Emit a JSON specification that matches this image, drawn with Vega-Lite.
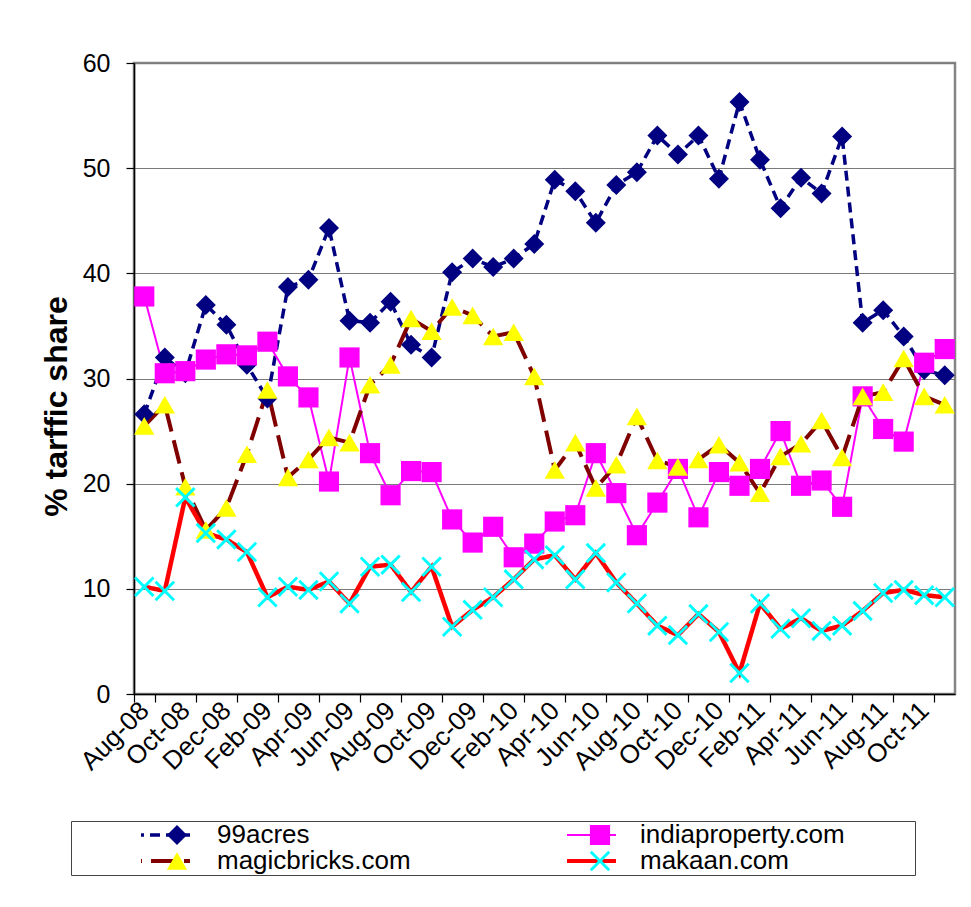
{
  "$schema": "https://vega.github.io/schema/vega-lite/v6.json",
  "width": 821,
  "height": 631,
  "autosize": {"type": "none"},
  "padding": {"left": 134, "top": 63, "right": 16, "bottom": 213},
  "background": "white",
  "config": {
    "font": "Liberation Sans",
    "view": {"stroke": "#858585", "strokeWidth": 2.5}
  },
  "data": {"values": [
    {"m":"Aug-08","s":"99acres","v":26.6},{"m":"Sep-08","s":"99acres","v":32.0},{"m":"Oct-08","s":"99acres","v":30.5},{"m":"Nov-08","s":"99acres","v":37.0},{"m":"Dec-08","s":"99acres","v":35.1},{"m":"Jan-09","s":"99acres","v":31.3},{"m":"Feb-09","s":"99acres","v":28.1},{"m":"Mar-09","s":"99acres","v":38.7},{"m":"Apr-09","s":"99acres","v":39.4},{"m":"May-09","s":"99acres","v":44.3},
    {"m":"Jun-09","s":"99acres","v":35.5},{"m":"Jul-09","s":"99acres","v":35.3},{"m":"Aug-09","s":"99acres","v":37.3},{"m":"Sep-09","s":"99acres","v":33.2},{"m":"Oct-09","s":"99acres","v":32.0},{"m":"Nov-09","s":"99acres","v":40.1},{"m":"Dec-09","s":"99acres","v":41.4},{"m":"Jan-10","s":"99acres","v":40.6},{"m":"Feb-10","s":"99acres","v":41.4},{"m":"Mar-10","s":"99acres","v":42.8},
    {"m":"Apr-10","s":"99acres","v":48.9},{"m":"May-10","s":"99acres","v":47.8},{"m":"Jun-10","s":"99acres","v":44.8},{"m":"Jul-10","s":"99acres","v":48.4},{"m":"Aug-10","s":"99acres","v":49.6},{"m":"Sep-10","s":"99acres","v":53.1},{"m":"Oct-10","s":"99acres","v":51.3},{"m":"Nov-10","s":"99acres","v":53.1},{"m":"Dec-10","s":"99acres","v":49.0},{"m":"Jan-11","s":"99acres","v":56.3},
    {"m":"Feb-11","s":"99acres","v":50.8},{"m":"Mar-11","s":"99acres","v":46.2},{"m":"Apr-11","s":"99acres","v":49.1},{"m":"May-11","s":"99acres","v":47.6},{"m":"Jun-11","s":"99acres","v":53.0},{"m":"Jul-11","s":"99acres","v":35.3},{"m":"Aug-11","s":"99acres","v":36.5},{"m":"Sep-11","s":"99acres","v":34.0},{"m":"Oct-11","s":"99acres","v":30.8},{"m":"Nov-11","s":"99acres","v":30.3},

    {"m":"Aug-08","s":"indiaproperty.com","v":37.8},{"m":"Sep-08","s":"indiaproperty.com","v":30.5},{"m":"Oct-08","s":"indiaproperty.com","v":30.7},{"m":"Nov-08","s":"indiaproperty.com","v":31.8},{"m":"Dec-08","s":"indiaproperty.com","v":32.3},{"m":"Jan-09","s":"indiaproperty.com","v":32.2},{"m":"Feb-09","s":"indiaproperty.com","v":33.5},{"m":"Mar-09","s":"indiaproperty.com","v":30.2},{"m":"Apr-09","s":"indiaproperty.com","v":28.2},{"m":"May-09","s":"indiaproperty.com","v":20.2},
    {"m":"Jun-09","s":"indiaproperty.com","v":32.0},{"m":"Jul-09","s":"indiaproperty.com","v":22.9},{"m":"Aug-09","s":"indiaproperty.com","v":18.9},{"m":"Sep-09","s":"indiaproperty.com","v":21.2},{"m":"Oct-09","s":"indiaproperty.com","v":21.1},{"m":"Nov-09","s":"indiaproperty.com","v":16.6},{"m":"Dec-09","s":"indiaproperty.com","v":14.4},{"m":"Jan-10","s":"indiaproperty.com","v":15.9},{"m":"Feb-10","s":"indiaproperty.com","v":13.0},{"m":"Mar-10","s":"indiaproperty.com","v":14.3},
    {"m":"Apr-10","s":"indiaproperty.com","v":16.4},{"m":"May-10","s":"indiaproperty.com","v":17.0},{"m":"Jun-10","s":"indiaproperty.com","v":22.9},{"m":"Jul-10","s":"indiaproperty.com","v":19.1},{"m":"Aug-10","s":"indiaproperty.com","v":15.1},{"m":"Sep-10","s":"indiaproperty.com","v":18.2},{"m":"Oct-10","s":"indiaproperty.com","v":21.4},{"m":"Nov-10","s":"indiaproperty.com","v":16.8},{"m":"Dec-10","s":"indiaproperty.com","v":21.1},{"m":"Jan-11","s":"indiaproperty.com","v":19.8},
    {"m":"Feb-11","s":"indiaproperty.com","v":21.4},{"m":"Mar-11","s":"indiaproperty.com","v":25.0},{"m":"Apr-11","s":"indiaproperty.com","v":19.8},{"m":"May-11","s":"indiaproperty.com","v":20.3},{"m":"Jun-11","s":"indiaproperty.com","v":17.8},{"m":"Jul-11","s":"indiaproperty.com","v":28.3},{"m":"Aug-11","s":"indiaproperty.com","v":25.2},{"m":"Sep-11","s":"indiaproperty.com","v":24.0},{"m":"Oct-11","s":"indiaproperty.com","v":31.5},{"m":"Nov-11","s":"indiaproperty.com","v":32.8},

    {"m":"Aug-08","s":"magicbricks.com","v":25.5},{"m":"Sep-08","s":"magicbricks.com","v":27.5},{"m":"Oct-08","s":"magicbricks.com","v":19.7},{"m":"Nov-08","s":"magicbricks.com","v":15.6},{"m":"Dec-08","s":"magicbricks.com","v":17.7},{"m":"Jan-09","s":"magicbricks.com","v":22.8},{"m":"Feb-09","s":"magicbricks.com","v":28.9},{"m":"Mar-09","s":"magicbricks.com","v":20.6},{"m":"Apr-09","s":"magicbricks.com","v":22.3},{"m":"May-09","s":"magicbricks.com","v":24.4},
    {"m":"Jun-09","s":"magicbricks.com","v":23.9},{"m":"Jul-09","s":"magicbricks.com","v":29.4},{"m":"Aug-09","s":"magicbricks.com","v":31.3},{"m":"Sep-09","s":"magicbricks.com","v":35.7},{"m":"Oct-09","s":"magicbricks.com","v":34.5},{"m":"Nov-09","s":"magicbricks.com","v":36.8},{"m":"Dec-09","s":"magicbricks.com","v":36.0},{"m":"Jan-10","s":"magicbricks.com","v":34.0},{"m":"Feb-10","s":"magicbricks.com","v":34.4},{"m":"Mar-10","s":"magicbricks.com","v":30.2},
    {"m":"Apr-10","s":"magicbricks.com","v":21.3},{"m":"May-10","s":"magicbricks.com","v":23.9},{"m":"Jun-10","s":"magicbricks.com","v":19.6},{"m":"Jul-10","s":"magicbricks.com","v":21.8},{"m":"Aug-10","s":"magicbricks.com","v":26.4},{"m":"Sep-10","s":"magicbricks.com","v":22.2},{"m":"Oct-10","s":"magicbricks.com","v":21.6},{"m":"Nov-10","s":"magicbricks.com","v":22.3},{"m":"Dec-10","s":"magicbricks.com","v":23.7},{"m":"Jan-11","s":"magicbricks.com","v":22.0},
    {"m":"Feb-11","s":"magicbricks.com","v":19.1},{"m":"Mar-11","s":"magicbricks.com","v":22.6},{"m":"Apr-11","s":"magicbricks.com","v":23.8},{"m":"May-11","s":"magicbricks.com","v":26.0},{"m":"Jun-11","s":"magicbricks.com","v":22.5},{"m":"Jul-11","s":"magicbricks.com","v":28.3},{"m":"Aug-11","s":"magicbricks.com","v":28.7},{"m":"Sep-11","s":"magicbricks.com","v":31.9},{"m":"Oct-11","s":"magicbricks.com","v":28.3},{"m":"Nov-11","s":"magicbricks.com","v":27.5},

    {"m":"Aug-08","s":"makaan.com","v":10.2},{"m":"Sep-08","s":"makaan.com","v":9.8},{"m":"Oct-08","s":"makaan.com","v":18.7},{"m":"Nov-08","s":"makaan.com","v":15.3},{"m":"Dec-08","s":"makaan.com","v":14.7},{"m":"Jan-09","s":"makaan.com","v":13.5},{"m":"Feb-09","s":"makaan.com","v":9.2},{"m":"Mar-09","s":"makaan.com","v":10.2},{"m":"Apr-09","s":"makaan.com","v":9.9},{"m":"May-09","s":"makaan.com","v":10.7},
    {"m":"Jun-09","s":"makaan.com","v":8.6},{"m":"Jul-09","s":"makaan.com","v":12.1},{"m":"Aug-09","s":"makaan.com","v":12.3},{"m":"Sep-09","s":"makaan.com","v":9.7},{"m":"Oct-09","s":"makaan.com","v":12.1},{"m":"Nov-09","s":"makaan.com","v":6.4},{"m":"Dec-09","s":"makaan.com","v":8.0},{"m":"Jan-10","s":"makaan.com","v":9.2},{"m":"Feb-10","s":"makaan.com","v":10.9},{"m":"Mar-10","s":"makaan.com","v":12.8},
    {"m":"Apr-10","s":"makaan.com","v":13.2},{"m":"May-10","s":"makaan.com","v":10.9},{"m":"Jun-10","s":"makaan.com","v":13.4},{"m":"Jul-10","s":"makaan.com","v":10.6},{"m":"Aug-10","s":"makaan.com","v":8.6},{"m":"Sep-10","s":"makaan.com","v":6.5},{"m":"Oct-10","s":"makaan.com","v":5.6},{"m":"Nov-10","s":"makaan.com","v":7.6},{"m":"Dec-10","s":"makaan.com","v":5.9},{"m":"Jan-11","s":"makaan.com","v":2.0},
    {"m":"Feb-11","s":"makaan.com","v":8.6},{"m":"Mar-11","s":"makaan.com","v":6.2},{"m":"Apr-11","s":"makaan.com","v":7.2},{"m":"May-11","s":"makaan.com","v":6.0},{"m":"Jun-11","s":"makaan.com","v":6.5},{"m":"Jul-11","s":"makaan.com","v":7.9},{"m":"Aug-11","s":"makaan.com","v":9.6},{"m":"Sep-11","s":"makaan.com","v":9.9},{"m":"Oct-11","s":"makaan.com","v":9.4},{"m":"Nov-11","s":"makaan.com","v":9.2}
  ]},
  "encoding": {
    "x": {
      "field": "m", "type": "ordinal", "sort": null,
      "scale": {"type": "band", "paddingInner": 0, "paddingOuter": 0,
        "domain": ["Aug-08","Sep-08","Oct-08","Nov-08","Dec-08","Jan-09","Feb-09","Mar-09","Apr-09","May-09","Jun-09","Jul-09","Aug-09","Sep-09","Oct-09","Nov-09","Dec-09","Jan-10","Feb-10","Mar-10","Apr-10","May-10","Jun-10","Jul-10","Aug-10","Sep-10","Oct-10","Nov-10","Dec-10","Jan-11","Feb-11","Mar-11","Apr-11","May-11","Jun-11","Jul-11","Aug-11","Sep-11","Oct-11","Nov-11"]},
      "axis": {
        "values": ["Aug-08","Oct-08","Dec-08","Feb-09","Apr-09","Jun-09","Aug-09","Oct-09","Dec-09","Feb-10","Apr-10","Jun-10","Aug-10","Oct-10","Dec-10","Feb-11","Apr-11","Jun-11","Aug-11","Oct-11"],
        "title": null, "tickBand": "extent", "grid": false,
        "labelAngle": -45, "labelAlign": "right", "labelBaseline": "middle",
        "labelFontSize": 26, "labelColor": "black", "labelPadding": 4,
        "tickColor": "black", "tickSize": 8, "tickWidth": 1.2,
        "domainColor": "black", "domainWidth": 1.5
      }
    },
    "y": {
      "field": "v", "type": "quantitative",
      "scale": {"domain": [0, 60], "nice": false},
      "axis": {
        "values": [0, 10, 20, 30, 40, 50, 60],
        "title": "% tarffic share", "titleFontSize": 32, "titleFontWeight": "bold", "titleColor": "black",
        "titleAngle": 270, "titleX": -78, "titleY": 343, "titleAlign": "center", "titleBaseline": "middle",
        "grid": true, "gridColor": "#7a7a7a", "gridWidth": 1.2,
        "domainColor": "black", "domainWidth": 1.5,
        "tickColor": "black", "tickSize": 8, "tickWidth": 1.2,
        "labelFontSize": 25, "labelColor": "black", "labelPadding": 16
      }
    }
  },
  "layer": [
    {
      "mark": {"type": "line"},
      "encoding": {
        "color": {
          "field": "s", "type": "nominal",
          "scale": {"domain": ["99acres","indiaproperty.com","magicbricks.com","makaan.com"], "range": ["#000080","#FF00FF","#800000","#FF0000"]},
          "legend": {
            "orient": "none", "legendX": -63, "legendY": 758, "direction": "horizontal",
            "columns": 2, "columnPadding": 200, "rowPadding": 0, "padding": 1,
            "strokeColor": "#444444", "fillColor": "white",
            "symbolType": "stroke", "symbolSize": 5184, "symbolStrokeWidth": 4, "clipHeight": 26,
            "labelFontSize": 26, "labelOffset": 6, "labelColor": "transparent", "labelLimit": 0,
            "labelExpr": "datum.label + '\u00a0\u00a0\u00a0\u00a0\u00a0' + (datum.value === 'indiaproperty.com' || datum.value === 'makaan.com' ? 'MMMr' : '')",
            "title": ".", "titleOrient": "left", "titleColor": "transparent", "titleFontSize": 1, "titlePadding": 68,
            "encode": {"symbols": {"update": {"strokeWidth": {"signal": "datum.value === 'indiaproperty.com' ? 2 : datum.value === '99acres' ? 3.5 : 4"}}}}
          }
        },
        "strokeDash": {
          "field": "s", "type": "nominal",
          "scale": {"domain": ["99acres","indiaproperty.com","magicbricks.com","makaan.com"], "range": [[10,6],[1,0],[24,9],[1,0]]}
        },
        "strokeWidth": {
          "condition": [
            {"test": "datum.s === 'indiaproperty.com'", "value": 2},
            {"test": "datum.s === 'magicbricks.com'", "value": 4},
            {"test": "datum.s === 'makaan.com'", "value": 4.5}
          ],
          "value": 3.5
        }
      }
    },
    {
      "mark": {"type": "point", "filled": true, "opacity": 1, "strokeWidth": 0},
      "encoding": {
        "fill": {
          "field": "s", "type": "nominal",
          "scale": {"domain": ["makaan.com","magicbricks.com","indiaproperty.com","99acres"], "range": ["#00FFFF","#FFFF00","#FF00FF","#000080"]},
          "legend": {
            "orient": "none", "legendX": -63, "legendY": 758, "direction": "horizontal",
            "values": ["99acres","indiaproperty.com","magicbricks.com","makaan.com"],
            "columns": 2, "columnPadding": 153, "rowPadding": 0, "padding": 1,
            "symbolSize": 400, "clipHeight": 26, "symbolStrokeWidth": 0, "symbolOffset": 23,
            "labelFontSize": 26, "labelOffset": 27, "labelColor": "black", "labelLimit": 0,
            "labelExpr": "datum.label + '\u00a0\u00a0\u00a0\u00a0\u00a0'",
            "title": ".", "titleOrient": "left", "titleColor": "transparent", "titleFontSize": 1, "titlePadding": 68
          }
        },
        "shape": {
          "field": "s", "type": "nominal",
          "scale": {"domain": ["makaan.com","magicbricks.com","indiaproperty.com","99acres"], "range": ["M-1,-0.8L-0.8,-1L0,-0.2L0.8,-1L1,-0.8L0.2,0L1,0.8L0.8,1L0,0.2L-0.8,1L-1,0.8L-0.2,0Z","triangle-up","square","diamond"]}
        },
        "size": {
          "field": "s", "type": "nominal",
          "scale": {"domain": ["makaan.com","magicbricks.com","indiaproperty.com","99acres"], "range": [420, 400, 230, 380]}
        }
      }
    }
  ]
}
